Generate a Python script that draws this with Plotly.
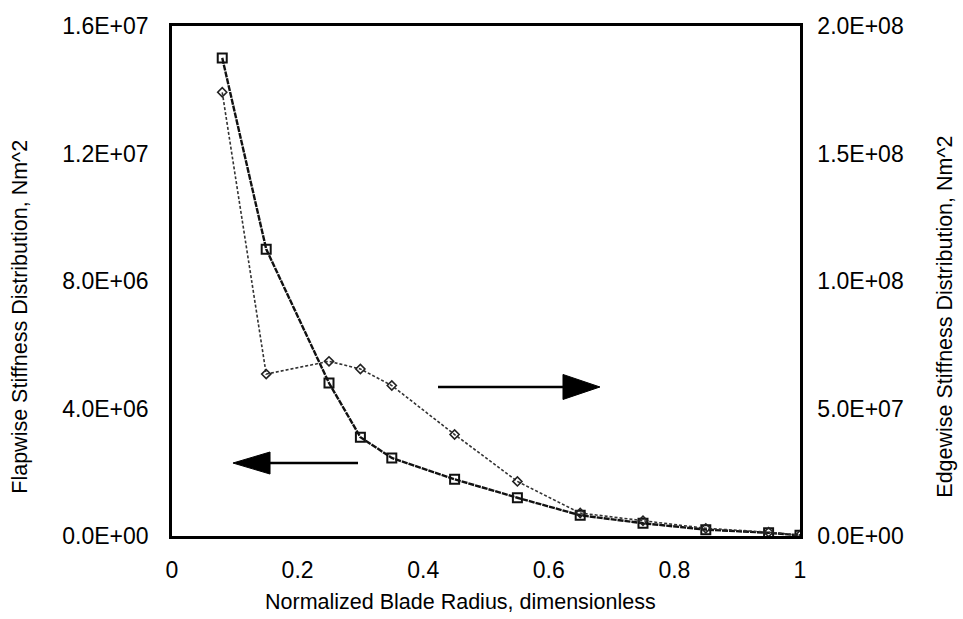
import plotly.graph_objects as go

# Normalized blade radius stations
radius = [0.08, 0.15, 0.25, 0.30, 0.35, 0.45, 0.55, 0.65, 0.75, 0.85, 0.95, 1.00]

# Flapwise stiffness (left axis), Nm^2
flapwise = [1.50e7, 9.0e6, 4.8e6, 3.1e6, 2.45e6, 1.78e6, 1.2e6, 0.65e6, 0.40e6, 0.20e6, 0.10e6, 0.02e6]

# Edgewise stiffness (right axis), Nm^2
edgewise = [1.74e8, 6.35e7, 6.85e7, 6.55e7, 5.9e7, 3.98e7, 2.14e7, 0.9e7, 0.6e7, 0.3e7, 0.15e7, 0.03e7]

x_ticks = [0, 0.2, 0.4, 0.6, 0.8, 1.0]
x_tick_text = ["0", "0.2", "0.4", "0.6", "0.8", "1"]
left_ticks = [0, 4e6, 8e6, 1.2e7, 1.6e7]
left_tick_text = ["0.0E+00", "4.0E+06", "8.0E+06", "1.2E+07", "1.6E+07"]
right_ticks = [0, 5e7, 1e8, 1.5e8, 2e8]
right_tick_text = ["0.0E+00", "5.0E+07", "1.0E+08", "1.5E+08", "2.0E+08"]

FONT = "Arial, Liberation Sans, sans-serif"
TICK_SIZE = 23
TITLE_SIZE = 21.5

fig = go.Figure()

fig.add_trace(go.Scatter(
    x=radius, y=edgewise, yaxis="y2", mode="lines+markers",
    name="Edgewise",
    line=dict(color="#333333", width=1.6, dash="3px,2px"),
    marker=dict(symbol="diamond-open", size=7, color="#222222",
                line=dict(width=1.6, color="#222222")),
))

fig.add_trace(go.Scatter(
    x=radius, y=flapwise, yaxis="y", mode="lines+markers",
    name="Flapwise",
    line=dict(color="#111111", width=2.4, dash="6px,1px"),
    marker=dict(symbol="square-open", size=9, color="#111111",
                line=dict(width=2, color="#111111")),
))

axis_common = dict(
    showgrid=False, zeroline=False, showline=True, linecolor="black",
    linewidth=2.5, ticks="", tickfont=dict(family=FONT, size=TICK_SIZE, color="black"),
)

fig.update_layout(
    width=963, height=619,
    margin=dict(l=172, r=163, t=26, b=83),
    paper_bgcolor="white", plot_bgcolor="white",
    showlegend=False,
    font=dict(family=FONT, color="black"),
    xaxis=dict(range=[0, 1], tickvals=x_ticks, ticktext=x_tick_text,
               mirror=True, ticklabelstandoff=12, **axis_common),
    yaxis=dict(range=[0, 1.6e7], tickvals=left_ticks, ticktext=left_tick_text,
               ticklabelstandoff=16, **axis_common),
    yaxis2=dict(range=[0, 2e8], tickvals=right_ticks, ticktext=right_tick_text,
                overlaying="y", side="right", ticklabelstandoff=10, **axis_common),
    annotations=[
        dict(text="Normalized Blade Radius, dimensionless", x=0.46, y=-0.0,
             xref="paper", yref="paper", xanchor="center", yanchor="middle",
             yshift=-66, showarrow=False, font=dict(family=FONT, size=TITLE_SIZE)),
        dict(text="Flapwise Stiffness Distribution, Nm^2", x=0, y=0.43,
             xref="paper", yref="paper", xanchor="center", yanchor="middle",
             xshift=-152, textangle=-90, showarrow=False, font=dict(family=FONT, size=TITLE_SIZE)),
        dict(text="Edgewise Stiffness Distribution, Nm^2", x=1, y=0.43,
             xref="paper", yref="paper", xanchor="center", yanchor="middle",
             xshift=145, textangle=-90, showarrow=False, font=dict(family=FONT, size=TITLE_SIZE)),
    ],
)

# Direction arrows: left arrow points to the flapwise axis, right arrow to the edgewise axis
def arrow_shapes(y, x_tail, x_base, x_tip, half_h):
    return [
        dict(type="line", xref="x", yref="paper", x0=x_tail, x1=x_base, y0=y, y1=y,
             line=dict(color="black", width=2.5)),
        dict(type="path", xref="x", yref="paper",
             path=f"M {x_tip} {y} L {x_base} {y + half_h} L {x_base} {y - half_h} Z",
             fillcolor="black", line=dict(color="black", width=1)),
    ]

shapes = []
shapes += arrow_shapes(0.1431, 0.2962, 0.1561, 0.0971, 0.0216)
shapes += arrow_shapes(0.2922, 0.4236, 0.6226, 0.6815, 0.0245)
fig.update_layout(shapes=shapes)

fig.write_html("out.html")
